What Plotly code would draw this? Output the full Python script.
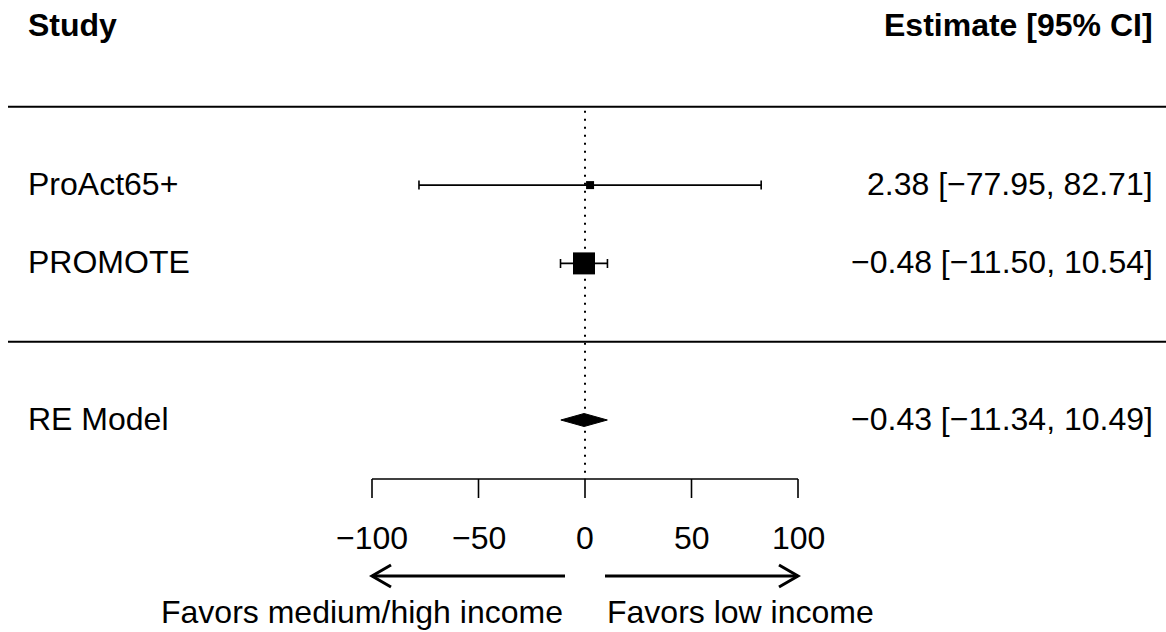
import plotly.graph_objects as go

# ---- data ----
studies = ["ProAct65+", "PROMOTE"]
est = [2.38, -0.48]
ci_lb = [-77.95, -11.50]
ci_ub = [82.71, 10.54]
weights_px = [8, 22]          # square size reflecting study weight
study_rows = [4, 3]

model_label = "RE Model"
model_est = -0.43
model_lb = -11.34
model_ub = 10.49
model_row = 1

tick_vals = [-100, -50, 0, 50, 100]
tick_text = ["\u2212100", "\u221250", "0", "50", "100"]

header_left = "Study"
header_right = "Estimate [95% CI]"
favor_left = "Favors medium/high income"
favor_right = "Favors low income"

# ---- layout helpers (pixel -> data) ----
W, H = 1166, 632
X0, PPU = 585.0, 2.13          # pixel of x=0, pixels per unit
Y1, PPR = 420.0, 78.3          # pixel of row 1, pixels per row
TXT_DY = -1.5                  # text vertical nudge (px)

def px_x(p):
    return (p - X0) / PPU

def px_y(p):
    return 1 + (Y1 - p) / PPR

def fmt(v):
    s = f"{v:.2f}"
    return s.replace("-", "\u2212")

FONT = "Liberation Sans, Arial, sans-serif"
FS = 32
fig = go.Figure()

# study CIs and squares
fig.add_trace(go.Scatter(
    x=est, y=study_rows, mode="markers",
    marker=dict(symbol="square", size=weights_px, color="black", opacity=1, line=dict(width=0)),
    error_x=dict(type="data", symmetric=False,
                 array=[u - e for u, e in zip(ci_ub, est)],
                 arrayminus=[e - l for e, l in zip(est, ci_lb)],
                 width=4.5, thickness=1.6, color="black"),
    hoverinfo="skip"))

# summary diamond
dh = 6.5 / PPR
fig.add_trace(go.Scatter(
    x=[model_lb, model_est, model_ub, model_est, model_lb],
    y=[model_row, model_row + dh, model_row, model_row - dh, model_row],
    mode="lines", fill="toself", fillcolor="black",
    line=dict(color="black", width=1), hoverinfo="skip"))

shapes = []
# horizontal separator lines
for r in [5, 2]:
    shapes.append(dict(type="line", xref="x", yref="y", x0=px_x(8), x1=px_x(W + 5),
                       y0=r, y1=r, line=dict(color="black", width=2)))
# reference dotted line at 0
axis_y = px_y(479)
shapes.append(dict(type="line", xref="x", yref="y", x0=0, x1=0, y0=5 - 4 / PPR, y1=axis_y,
                   line=dict(color="black", width=2, dash="2px,6px")))
# x axis line and ticks
shapes.append(dict(type="line", xref="x", yref="y", x0=tick_vals[0], x1=tick_vals[-1],
                   y0=axis_y, y1=axis_y, line=dict(color="black", width=1.6)))
tick_bot = px_y(498)
for t in tick_vals:
    shapes.append(dict(type="line", xref="x", yref="y", x0=t, x1=t, y0=axis_y, y1=tick_bot,
                       line=dict(color="black", width=1.6)))

# arrows
arr_y = px_y(576)
gap = px_x(565)  # negative
hx, hy = 19 / PPU, 11 / PPR
for sgn in [-1, 1]:
    a0 = sgn * abs(gap)
    a1 = sgn * tick_vals[-1]
    fig.add_trace(go.Scatter(x=[a0, a1], y=[arr_y, arr_y], mode="lines",
                             line=dict(color="black", width=3), hoverinfo="skip"))
    fig.add_trace(go.Scatter(x=[a1 - sgn * hx, a1, a1 - sgn * hx],
                             y=[arr_y + hy, arr_y, arr_y - hy], mode="lines",
                             line=dict(color="black", width=3), hoverinfo="skip"))

ann = []
def txt(x, y, s, xa, bold=False):
    ann.append(dict(x=x, y=y - TXT_DY / PPR, xref="x", yref="y",
                    text=f"<b>{s}</b>" if bold else s,
                    showarrow=False, xanchor=xa, yanchor="middle",
                    font=dict(family=FONT, size=FS, color="black")))

left_x = px_x(26)
right_x = px_x(1155)
txt(left_x, px_y(26), header_left, "left", True)
txt(right_x, px_y(26), header_right, "right", True)
for s, r, e, l, u in zip(studies, study_rows, est, ci_lb, ci_ub):
    txt(left_x, r, s, "left")
    txt(right_x, r, f"{fmt(e)} [{fmt(l)}, {fmt(u)}]", "right")
txt(left_x, model_row, model_label, "left")
txt(right_x, model_row, f"{fmt(model_est)} [{fmt(model_lb)}, {fmt(model_ub)}]", "right")
for t, s in zip(tick_vals, tick_text):
    txt(t, px_y(539), s, "center")
txt(px_x(565), px_y(613), favor_left, "right")
txt(px_x(605), px_y(613), favor_right, "left")

fig.update_layout(
    width=W, height=H, margin=dict(l=0, r=0, t=0, b=0),
    paper_bgcolor="white", plot_bgcolor="white", showlegend=False,
    xaxis=dict(range=[px_x(0), px_x(W)], visible=False, fixedrange=True),
    yaxis=dict(range=[px_y(H), px_y(0)], visible=False, fixedrange=True),
    shapes=shapes, annotations=ann)

fig.write_html("out.html")
